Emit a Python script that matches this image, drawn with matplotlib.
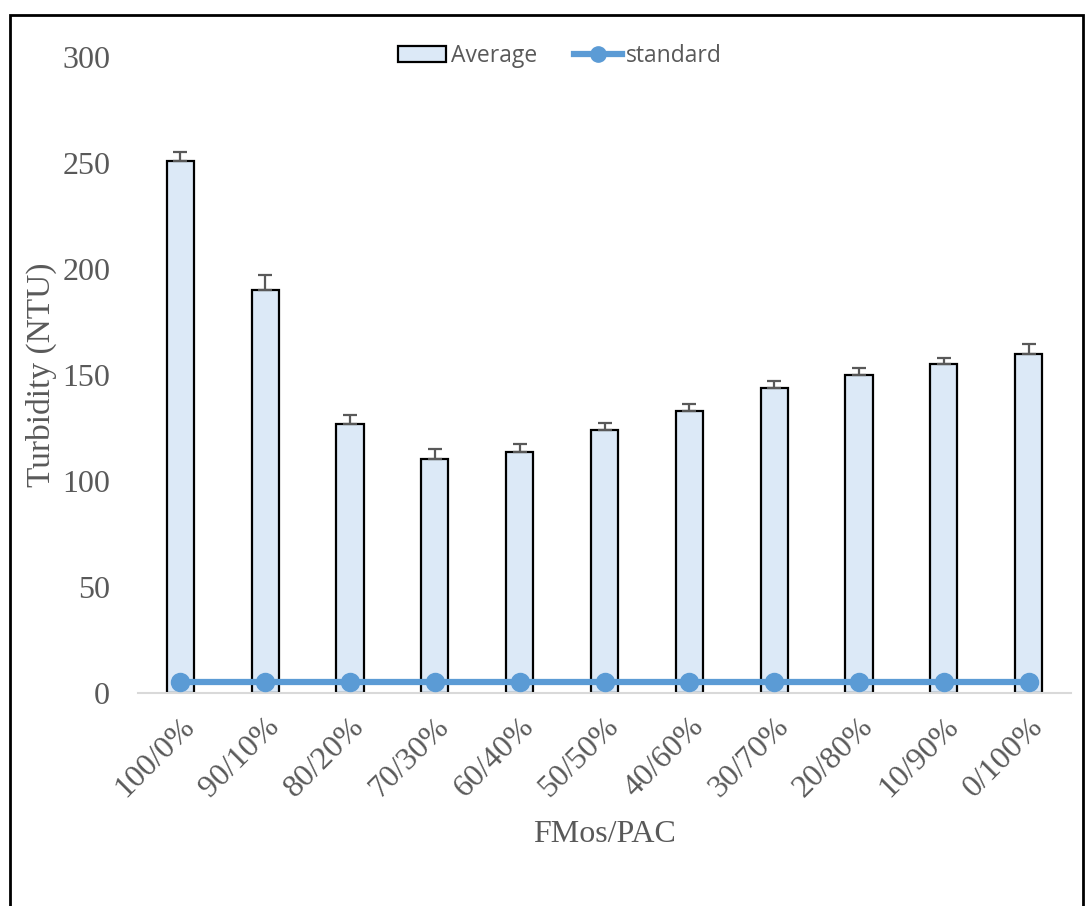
import matplotlib
matplotlib.use("Agg")
import matplotlib.pyplot as plt
from matplotlib.patches import Rectangle
from matplotlib.lines import Line2D
from matplotlib.patches import Patch

categories = ["100/0%", "90/10%", "80/20%", "70/30%", "60/40%", "50/50%",
              "40/60%", "30/70%", "20/80%", "10/90%", "0/100%"]
average = [251, 190, 127, 110.5, 113.5, 124, 133, 144, 150, 155, 160]
errors = [4, 7, 4, 4.5, 4, 3.5, 3.5, 3, 3.5, 3, 4.5]
standard = [5] * 11

fig = plt.figure(figsize=(10.86, 9.06), dpi=100)
ax = fig.add_axes([138/1086, 1-693/906, (1071-138)/1086, (693-57)/906])

x = list(range(len(categories)))
ax.bar(x, average, width=0.32, color="#DCE9F7", edgecolor="black", linewidth=1.6,
       label="Average", zorder=2)
ax.errorbar(x, average, yerr=[[0]*len(errors), errors], fmt="none", ecolor="#595959",
            elinewidth=1.6, capsize=5, capthick=1.6, zorder=2.5)
ax.plot(x, standard, color="#5B9BD5", linewidth=4.5, marker="o", markersize=13,
        label="standard", zorder=3)

ax.set_xlim(-0.5, 10.5)
ax.set_ylim(0, 300)
ax.set_yticks([0, 50, 100, 150, 200, 250, 300])
serif = "Liberation Serif"
ax.set_yticklabels([str(v) for v in [0, 50, 100, 150, 200, 250, 300]],
                   fontfamily=serif, fontsize=23, color="#595959")
ax.set_xticks(x)
ax.set_xticklabels(categories, rotation=45, ha="right", rotation_mode="anchor",
                   fontfamily=serif, fontsize=23, color="#595959")
ax.tick_params(axis="y", length=0, pad=20)
ax.tick_params(axis="x", length=0, pad=14)
for s in ["top", "right", "left"]:
    ax.spines[s].set_visible(False)
ax.spines["bottom"].set_color("#D9D9D9")
ax.spines["bottom"].set_linewidth(1.5)

ax.set_ylabel("Turbidity (NTU)", fontfamily=serif, fontsize=24, color="#595959", labelpad=4)
ax.set_xlabel("FMos/PAC", fontfamily=serif, fontsize=23, color="#595959", labelpad=12)

handles = [Patch(facecolor="#DCE9F7", edgecolor="black", linewidth=1.6, label="Average"),
           Line2D([0], [0], color="#5B9BD5", linewidth=4.5, marker="o", markersize=11, label="standard")]
leg = fig.legend(handles=handles, loc="center", bbox_to_anchor=(560/1086, 1-56/906), ncol=2,
                 frameon=False, prop={"family": "Open Sans", "size": 16.5},
                 handlelength=2.1, columnspacing=1.6, handletextpad=0.2)
for t in leg.get_texts():
    t.set_color("#595959")

fig.patches.append(Rectangle((10/1086, -0.05), (1083-10)/1086, 1.05-15/906,
                             transform=fig.transFigure, fill=False, edgecolor="black",
                             linewidth=2))

fig.savefig("out.png", dpi=100)
